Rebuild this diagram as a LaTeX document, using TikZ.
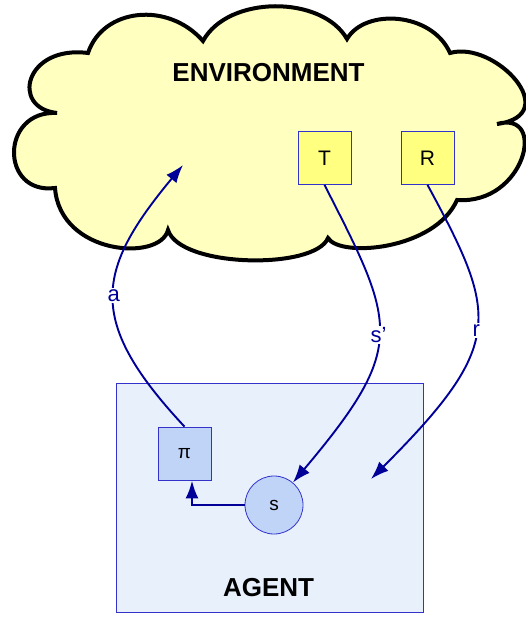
\documentclass[tikz,border=0pt]{standalone}
\usepackage{fontspec}
\setmainfont{Liberation Sans}
\usetikzlibrary{arrows.meta}

\definecolor{navy}{RGB}{0,0,153}
\definecolor{cloudfill}{RGB}{255,255,192}
\definecolor{boxyellow}{RGB}{255,255,128}
\definecolor{boxline}{RGB}{51,51,204}
\definecolor{agentfill}{RGB}{232,240,252}
\definecolor{statefill}{RGB}{192,212,248}

\begin{document}
\begin{tikzpicture}[x=1pt, y=-1pt,
    flow/.style={navy, line width=1.9pt, -{Latex[length=18pt,width=13pt]}},
    lbl/.style={fill=white, text=navy, inner sep=1.5pt, font=\fontsize{22}{26}\selectfont},
    envbox/.style={draw=boxline, fill=boxyellow, line width=0.8pt, minimum size=53pt, inner sep=0pt, font=\fontsize{21}{24}\selectfont},
    agbox/.style={draw=boxline, fill=statefill, line width=0.8pt, minimum size=53pt, inner sep=0pt, font=\fontsize{19}{22}\selectfont},
    title/.style={font=\fontsize{26}{30}\selectfont\bfseries}]
    \useasboundingbox (0,0) rectangle (525,617);

    % Environnement
    \draw[line width=4pt, fill=cloudfill]
        (88,53) .. controls (103,8) and (168,1) .. (203,41)
        .. controls (228,-5) and (322,-5) .. (347,39)
        .. controls (365,8) and (432,12) .. (450,53)
        .. controls (495,40) and (565,115) .. (497,124)
        .. controls (548,110) and (525,205) .. (457,200)
        .. controls (435,250) and (340,258) .. (328,238)
        .. controls (315,270) and (180,268) .. (168,230)
        .. controls (160,262) and (60,255) .. (55,188)
        .. controls (0,195) and (0,110) .. (57,113)
        .. controls (10,108) and (25,45) .. (88,53) -- cycle;
    \node[title] (env) at (268.5,72.5) {ENVIRONMENT};

    \foreach \n/\x in {T/324.5, R/427.5} {
        \node[envbox] (\n) at (\x,158) {\n};
    }

    % Agent
    \draw[draw=boxline, fill=agentfill, line width=0.8pt] (116,383) rectangle (423,612);
    \node[title] (agent) at (268.5,588) {AGENT};

    \node[agbox] (pi) at (184.5,453.5) {π};
    \node[agbox, circle, minimum size=58pt] (s) at (274,505) {s};

    \coordinate (aend) at (183,165);
    \coordinate (rend) at (371,479);

    % fleches
    \draw[flow] (pi.north) .. controls (86,321) and (95,271) .. node[lbl, pos=0.5] {a} (aend);
    \draw[flow] (T.south) .. controls (396,325) and (408,346) .. node[lbl, pos=0.5] {s’} (s);
    \draw[flow] (R.south) .. controls (498,315) and (506,344) .. node[lbl, pos=0.5] {r} (rend);
    \draw[flow, line width=2.6pt] (s.west) -| ([xshift=7.5pt]pi.south);
\end{tikzpicture}
\end{document}
